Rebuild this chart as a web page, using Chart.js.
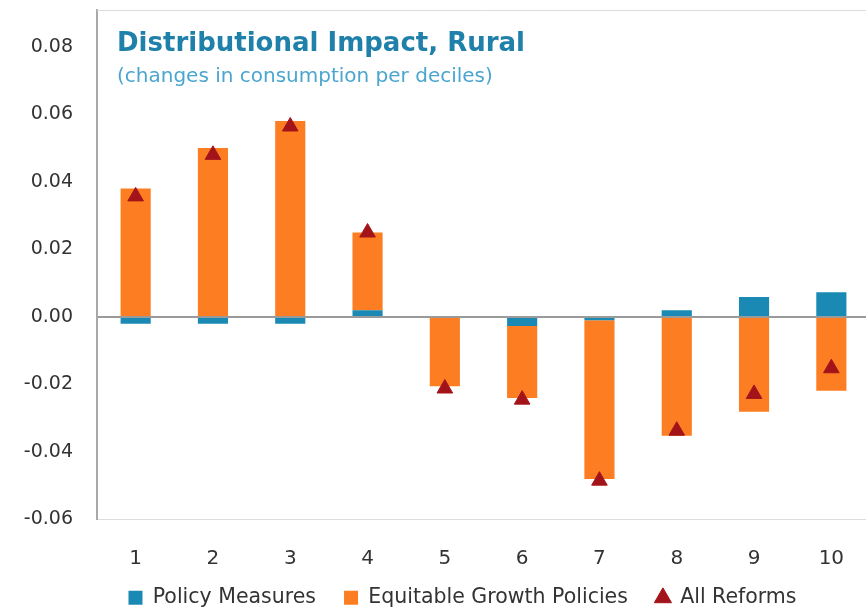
<!DOCTYPE html>
<html>
<head>
<meta charset="utf-8">
<script src="https://cdn.jsdelivr.net/npm/chart.js@4.4.1/dist/chart.umd.min.js"></script>
<style>
    html, body { margin: 0; padding: 0; background: #fff; overflow: hidden; }
    #wrap { width: 880px; height: 630px; }
</style>
</head>
<body>
<div id="wrap"><canvas id="chart" width="880" height="630"></canvas></div>
<script>
// Deciles and values
const deciles = ['1', '2', '3', '4', '5', '6', '7', '8', '9', '10'];
const policyMeasures = [-0.002, -0.002, -0.002, 0.002, 0.0003, -0.0027, -0.001, 0.002, 0.0059, 0.0073];
const equitableGrowth = [0.038, 0.050, 0.058, 0.023, -0.0205, -0.0213, -0.047, -0.0352, -0.0281, -0.0219];
const allReforms = [0.0357, 0.048, 0.0564, 0.025, -0.0212, -0.0245, -0.0485, -0.0337, -0.0228, -0.0152];
const yTicks = [-0.06, -0.04, -0.02, 0.00, 0.02, 0.04, 0.06, 0.08];

const yMin = -0.06;
const yMax = 0.0909;
const font = 'DejaVu Sans';

// Title drawn inside the plot area, like the original
const titlePlugin = {
    id: 'insideTitle',
    afterLayout(chart) {
        // legend sits a bit right of centre and a little higher in the original
        chart.legend.left += 24;
        chart.legend.right += 24;
        chart.legend.top -= 12;
        chart.legend.bottom -= 12;
    },
    afterDraw(chart) {
        const ctx = chart.ctx;
        const area = chart.chartArea;
        ctx.save();
        // top frame line
        ctx.strokeStyle = '#dcdcdc';
        ctx.lineWidth = 1;
        ctx.beginPath();
        ctx.moveTo(area.left, area.top + 0.5);
        ctx.lineTo(area.right, area.top + 0.5);
        ctx.stroke();

        ctx.textBaseline = 'middle';
        ctx.fillStyle = '#1f80aa';
        ctx.font = 'bold 26px "' + font + '"';
        ctx.fillText('Distributional Impact, Rural', area.left + 20, 44);
        ctx.fillStyle = '#4ba6cf';
        ctx.font = '20px "' + font + '"';
        ctx.fillText('(changes in consumption per deciles)', area.left + 20, 77);
        ctx.restore();
    }
};

const ctx = document.getElementById('chart').getContext('2d');
new Chart(ctx, {
    type: 'bar',
    data: {
        labels: deciles,
        datasets: [{
            label: 'Policy Measures',
            data: policyMeasures,
            backgroundColor: '#1a8ab4',
            pointStyle: 'rect',
            stack: 'bars',
            order: 1,
            barPercentage: 0.39,
            categoryPercentage: 1
        }, {
            label: 'Equitable Growth Policies',
            data: equitableGrowth,
            backgroundColor: '#fd7e22',
            pointStyle: 'rect',
            stack: 'bars',
            order: 1,
            barPercentage: 0.39,
            categoryPercentage: 1
        }, {
            type: 'line',
            label: 'All Reforms',
            data: allReforms,
            showLine: false,
            stack: 'reforms',
            order: 0,
            pointStyle: 'triangle',
            pointRadius: 9,
            pointBackgroundColor: '#a3141a',
            pointBorderColor: '#a3141a',
            backgroundColor: '#a3141a',
            borderColor: '#a3141a'
        }]
    },
    options: {
        responsive: false,
        animation: false,
        layout: { padding: { left: 0, right: 3, top: 8, bottom: 0 } },
        plugins: {
            tooltip: { enabled: false },
            legend: {
                position: 'bottom',
                labels: {
                    usePointStyle: true,
                    boxWidth: 14,
                    boxHeight: 14,
                    padding: 28,
                    color: '#333',
                    font: { family: font, size: 20.5 },
                    sort: (a, b) => a.datasetIndex - b.datasetIndex
                }
            }
        },
        scales: {
            x: {
                stacked: true,
                afterFit(scale) {
                    scale.height = 52;
                    scale.paddingLeft = 0;
                    scale.paddingRight = 0;
                },
                grid: { display: false },
                border: { color: '#dddddd' },
                ticks: {
                    color: '#333',
                    padding: 19,
                    font: { family: font, size: 20 }
                }
            },
            y: {
                stacked: true,
                min: yMin,
                max: yMax,
                afterBuildTicks(scale) {
                    scale.ticks = yTicks.map(v => ({ value: v }));
                },
                afterFit(scale) {
                    scale.width = 97;
                    scale.paddingTop = 0;
                    scale.paddingBottom = 0;
                },
                grid: {
                    drawTicks: false,
                    color: c => (Math.abs(c.tick.value) < 1e-9 ? '#9a9a9a' : (c.tick.value === yMin ? '#dddddd' : 'rgba(0,0,0,0)')),
                    lineWidth: c => (Math.abs(c.tick.value) < 1e-9 ? 2 : 1)
                },
                border: { color: '#a8a8a8', width: 2 },
                ticks: {
                    color: '#333',
                    padding: 24,
                    font: { family: font, size: 19 },
                    callback: v => v.toFixed(2)
                }
            }
        }
    },
    plugins: [titlePlugin]
});
</script>
</body>
</html>
